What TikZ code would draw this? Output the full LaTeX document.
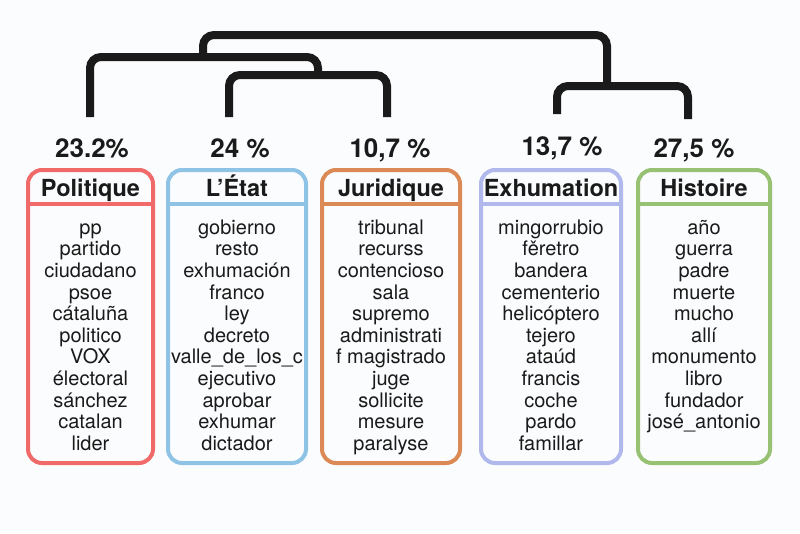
\documentclass[tikz,border=0pt]{standalone}
\usepackage{fontspec}
\setmainfont{TeX Gyre Heros}
\usepackage{xcolor}
\usetikzlibrary{positioning}
\definecolor{polred}{HTML}{F06A6A}
\definecolor{etatblue}{HTML}{8EC3E6}
\definecolor{jurorange}{HTML}{DB8A55}
\definecolor{exhviolet}{HTML}{B0B8EC}
\definecolor{histgreen}{HTML}{97C274}
\definecolor{inkdark}{HTML}{1A1A1A}
\definecolor{paper}{HTML}{FBFCFD}

\begin{document}
\begin{tikzpicture}[x=1pt, y=-1pt,
            dendro/.style={line width=8pt, inkdark, rounded corners=11pt},
            topicbox/.style={line width=4pt, rounded corners=14pt, minimum height=293pt},
            topicsep/.style={line width=4.5pt},
            topictitle/.style={font=\fontsize{23.5}{26}\selectfont\bfseries, text=inkdark, inner sep=0pt, anchor=base},
            words/.style={font=\fontsize{20}{21.6}\selectfont, text=inkdark, align=center, inner sep=0pt, anchor=north},
            share/.style={font=\fontsize{26}{28}\selectfont\bfseries, text=inkdark, inner sep=0pt, anchor=base}]
            % Page and background
            \useasboundingbox (0,0) rectangle (800,533);
            \fill[paper] (0,0) rectangle (800,533);

            % --- TOPIC BOXES ---
            % Politique
            \node[topicbox, draw=polred, minimum width=125pt] (pol-box) at (90.5,316.5) {};
            \draw[topicsep, polred] ([yshift=-36pt]pol-box.north west) -- ([yshift=-36pt]pol-box.north east);
            \node[topictitle] (pol-title) at ([yshift=-28pt]pol-box.north) {Politique};
            \node[words] (pol-words) at ([yshift=-51pt]pol-box.north) {\strut pp\\partido\\ciudadano\\psoe\\cátaluña\\politico\\VOX\\électoral\\sánchez\\catalan\\lider};

            % L'Etat
            \node[topicbox, draw=etatblue, minimum width=138pt] (etat-box) at (237,316.5) {};
            \draw[topicsep, etatblue] ([yshift=-36pt]etat-box.north west) -- ([yshift=-36pt]etat-box.north east);
            \node[topictitle] (etat-title) at ([yshift=-28pt]etat-box.north) {L’État};
            \node[words] (etat-words) at ([yshift=-51pt]etat-box.north) {\strut gobierno\\resto\\exhumación\\franco\\ley\\decreto\\valle\_de\_los\_c\\ejecutivo\\aprobar\\exhumar\\dictador};

            % Juridique
            \node[topicbox, draw=jurorange, minimum width=138pt] (jur-box) at (391,316.5) {};
            \draw[topicsep, jurorange] ([yshift=-36pt]jur-box.north west) -- ([yshift=-36pt]jur-box.north east);
            \node[topictitle] (jur-title) at ([yshift=-28pt]jur-box.north) {Juridique};
            \node[words] (jur-words) at ([yshift=-51pt]jur-box.north) {\strut tribunal\\recurss\\contencioso\\sala\\supremo\\administrati\\f magistrado\\juge\\sollicite\\mesure\\paralyse};

            % Exhumation
            \node[topicbox, draw=exhviolet, minimum width=140pt] (exh-box) at (551,316.5) {};
            \draw[topicsep, exhviolet] ([yshift=-36pt]exh-box.north west) -- ([yshift=-36pt]exh-box.north east);
            \node[topictitle] (exh-title) at ([yshift=-28pt]exh-box.north) {Exhumation};
            \node[words] (exh-words) at ([yshift=-51pt]exh-box.north) {\strut mingorrubio\\fěretro\\bandera\\cementerio\\helicóptero\\tejero\\ataúd\\francis\\coche\\pardo\\famillar};

            % Histoire
            \node[topicbox, draw=histgreen, minimum width=132pt] (hist-box) at (704,316.5) {};
            \draw[topicsep, histgreen] ([yshift=-36pt]hist-box.north west) -- ([yshift=-36pt]hist-box.north east);
            \node[topictitle] (hist-title) at ([yshift=-28pt]hist-box.north) {Histoire};
            \node[words] (hist-words) at ([yshift=-51pt]hist-box.north) {\strut año\\guerra\\padre\\muerte\\mucho\\allí\\monumento\\libro\\fundador\\josé\_antonio};

            % --- SHARES ---
            \node[share] (pol-share) at (92,157) {23.2\%};
            \node[share] (etat-share) at (240,157) {24 \%};
            \node[share] (jur-share) at (390,157) {10,7 \%};
            \node[share] (exh-share) at (562,155) {13,7 \%};
            \node[share] (hist-share) at (694,157) {27,5 \%};

            % --- DENDROGRAM ---
            \coordinate (pol-leaf) at (90,117);
            \coordinate (etat-leaf) at (229,117);
            \coordinate (jur-leaf) at (387,117);
            \coordinate (exh-leaf) at (557,114);
            \coordinate (hist-leaf) at (688,119);
            \coordinate (etat-jur) at (318,75);
            \coordinate (pol-etat-jur) at (203,57);
            \coordinate (exh-hist) at (607,86);
            \coordinate (root) at (405,35);

            \draw[dendro] (etat-leaf) |- (etat-jur) -| (jur-leaf);
            \draw[dendro] (pol-leaf) |- (pol-etat-jur) -| (etat-jur);
            \draw[dendro] (exh-leaf) |- (exh-hist) -| (hist-leaf);
            \draw[dendro] (pol-etat-jur) |- (root) -| (exh-hist);
        \end{tikzpicture}
\end{document}
